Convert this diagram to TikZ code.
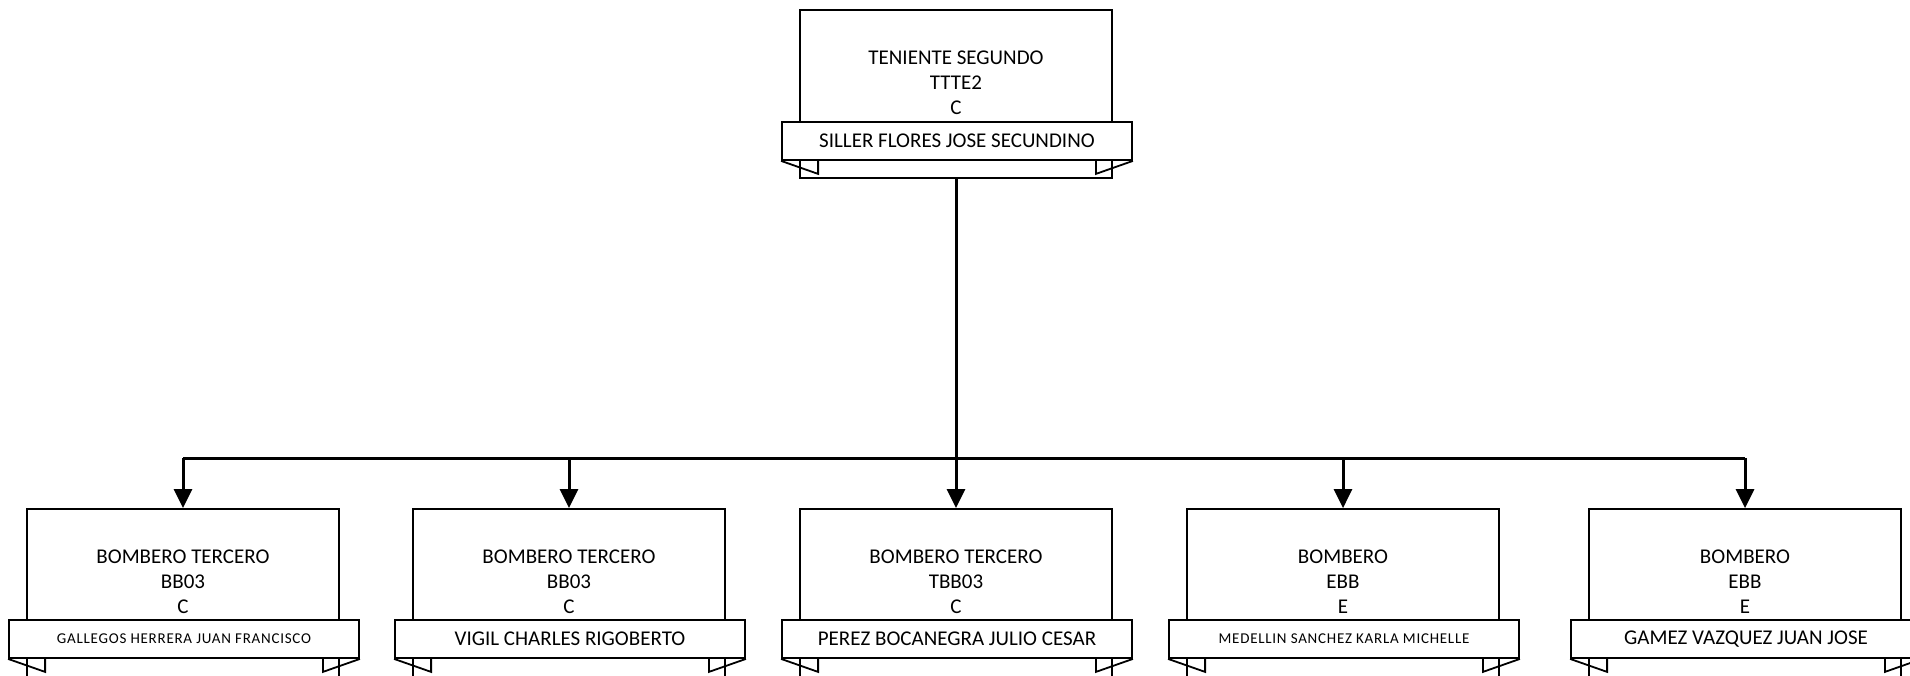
\documentclass[tikz,border=0pt]{standalone}
\usepackage{fontspec}
\setmainfont{Carlito}
\newfontfamily\chica[LetterSpace=5]{Carlito}
\usetikzlibrary{arrows.meta}
\tikzset{
	puesto/.style={draw,line width=1.8pt,minimum width=312pt,minimum height=168pt,inner sep=0pt},
	banda/.style={draw,fill=white,line width=1.8pt,minimum width=350pt,minimum height=38pt,inner sep=0pt},
	linea/.style={line width=3pt},
	texto/.style={align=center,font=\fontsize{21}{25}\selectfont,inner sep=0pt},
	normal/.style={font=\fontsize{21}{25}\selectfont},
	pequena/.style={font=\chica\fontsize{15}{15}\selectfont},
}
\begin{document}
\begin{tikzpicture}[x=1pt,y=-1pt,>={Triangle[width=18pt,length=19pt]},line join=miter]
	\useasboundingbox (0,0) rectangle (1910,675);
	\clip (0,0) rectangle (1910,675);
	% jefe
	\node[puesto] (jefe) at (956,94) {};
	\node[texto] (tjefe) at (956,83) {TENIENTE SEGUNDO\\TTTE2\\C};
	\node[banda,normal] (bjefe) at (957,141) {SILLER FLORES JOSE SECUNDINO};
	\draw[line width=1.8pt] (bjefe.south west) -- ++(37,13) -- ++(0,-13);
	\draw[line width=1.8pt] (bjefe.south east) -- ++(-37,13) -- ++(0,-13);
	% subordinados
	\foreach \n/\x/\cargo/\clave/\tipo/\nombre/\tam in {
		1/183/BOMBERO TERCERO/BB03/C/GALLEGOS HERRERA JUAN FRANCISCO/pequena,
		2/569/BOMBERO TERCERO/BB03/C/VIGIL CHARLES RIGOBERTO/normal,
		3/956/BOMBERO TERCERO/TBB03/C/PEREZ BOCANEGRA JULIO CESAR/normal,
		4/1343/BOMBERO/EBB/E/MEDELLIN SANCHEZ KARLA MICHELLE/pequena,
		5/1745/BOMBERO/EBB/E/GAMEZ VAZQUEZ JUAN JOSE/normal}{
		\node[puesto] (p\n) at (\x,593) {};
		\node[texto] (t\n) at (\x,582) {\cargo\\\clave\\\tipo};
		\node[banda,\tam] (b\n) at (\x+1,639) {\nombre};
		\draw[line width=1.8pt] (b\n.south west) -- ++(37,13) -- ++(0,-13);
		\draw[line width=1.8pt] (b\n.south east) -- ++(-37,13) -- ++(0,-13);
	}
	% conectores
	\coordinate (bus) at (956,458);
	\draw[linea] (jefe.south) -- (bus);
	\draw[linea] (bus -| p1.north) -- (bus -| p5.north);
	\foreach \n in {1,...,5}
		\draw[linea,->] (bus -| p\n.north) -- (p\n.north);
\end{tikzpicture}
\end{document}
